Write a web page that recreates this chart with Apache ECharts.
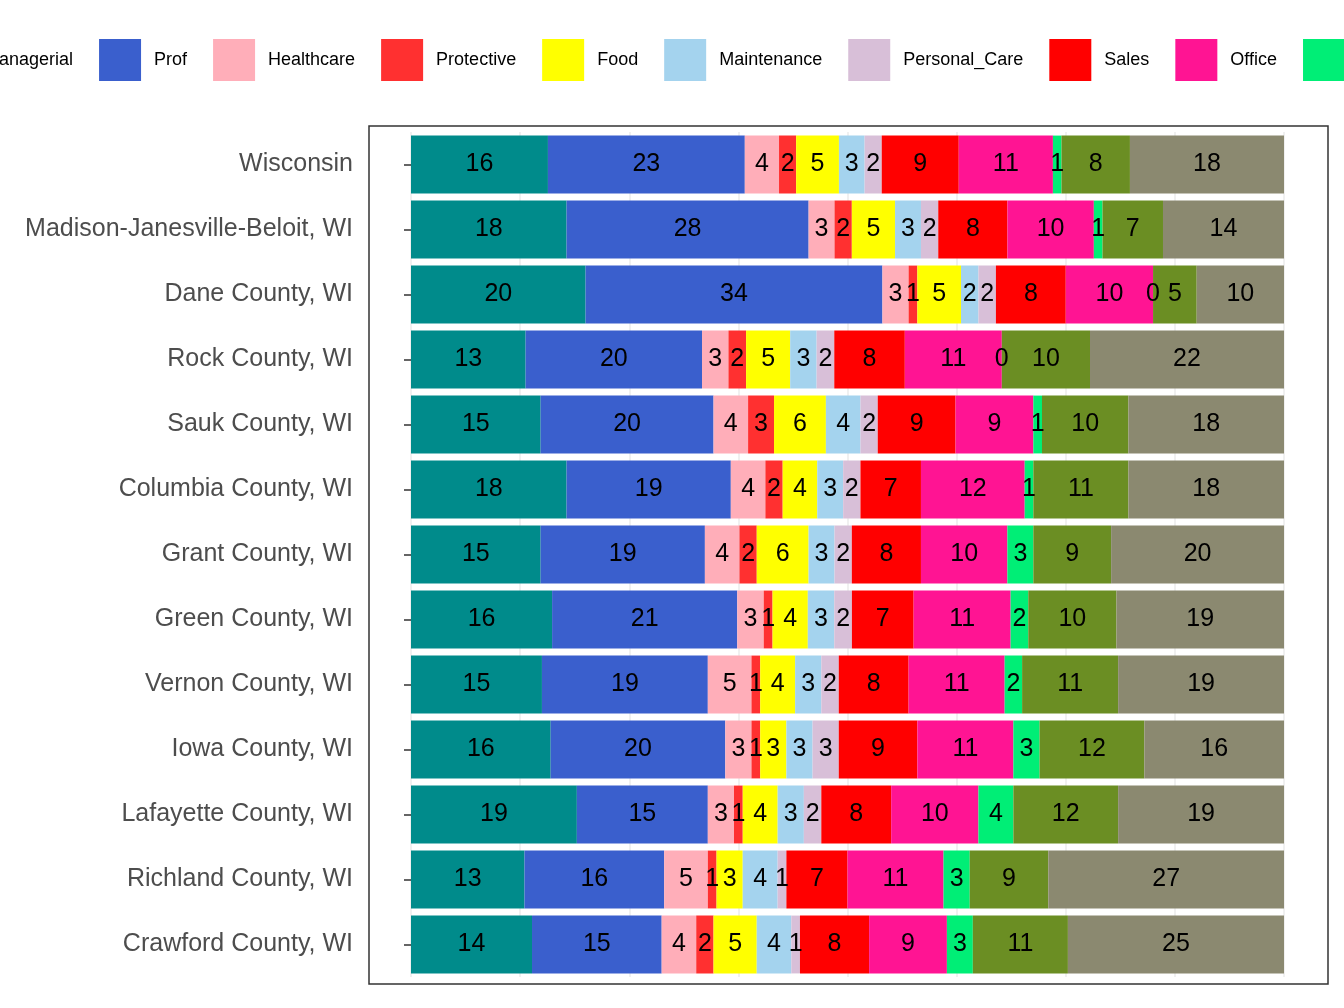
<!DOCTYPE html>
<html>
<head>
<meta charset="utf-8">
<script src="https://cdn.jsdelivr.net/npm/echarts@6/dist/echarts.min.js"></script>
<style>html,body{margin:0;padding:0;background:#fff}#chart{width:1344px;height:1008px}</style>
</head>
<body>
<div id="chart"></div>
<script>
const places = ['Wisconsin', 'Madison-Janesville-Beloit, WI', 'Dane County, WI', 'Rock County, WI',
  'Sauk County, WI', 'Columbia County, WI', 'Grant County, WI', 'Green County, WI',
  'Vernon County, WI', 'Iowa County, WI', 'Lafayette County, WI', 'Richland County, WI', 'Crawford County, WI']
const occupations = ['Managerial', 'Prof', 'Healthcare', 'Protective', 'Food', 'Maintenance',
  'Personal_Care', 'Sales', 'Office', 'Farming', 'Construction', 'Production']
const colors = ['#008B8B', '#3A5FCD', '#FFAEB9', '#FF3030', '#FFFF00', '#A4D3EE',
  '#D8BFD8', '#FF0000', '#FF1493', '#00EE76', '#6B8E23', '#8B8970']

// percent shares per place, in occupation order
const wisconsin = [16, 23, 4, 2, 5, 3, 2, 9, 11, 1, 8, 18]
const madison = [18, 28, 3, 2, 5, 3, 2, 8, 10, 1, 7, 14]
const dane = [20, 34, 3, 1, 5, 2, 2, 8, 10, 0, 5, 10]
const rock = [13, 20, 3, 2, 5, 3, 2, 8, 11, 0, 10, 22]
const sauk = [15, 20, 4, 3, 6, 4, 2, 9, 9, 1, 10, 18]
const columbia = [18, 19, 4, 2, 4, 3, 2, 7, 12, 1, 11, 18]
const grant = [15, 19, 4, 2, 6, 3, 2, 8, 10, 3, 9, 20]
const green = [16, 21, 3, 1, 4, 3, 2, 7, 11, 2, 10, 19]
const vernon = [15, 19, 5, 1, 4, 3, 2, 8, 11, 2, 11, 19]
const iowa = [16, 20, 3, 1, 3, 3, 3, 9, 11, 3, 12, 16]
const lafayette = [19, 15, 3, 1, 4, 3, 2, 8, 10, 4, 12, 19]
const richland = [13, 16, 5, 1, 3, 4, 1, 7, 11, 3, 9, 27]
const crawford = [14, 15, 4, 2, 5, 4, 1, 8, 9, 3, 11, 25]

const rows = [wisconsin, madison, dane, rock, sauk, columbia, grant, green, vernon, iowa, lafayette, richland, crawford]
const totals = rows.map(r => r.reduce((a, b) => a + b, 0))

const series = occupations.map((name, i) => ({
  name,
  type: 'bar',
  stack: 'all',
  barWidth: '89%',
  itemStyle: { color: colors[i] },
  label: {
    show: true,
    color: '#000',
    fontSize: 25,
    fontFamily: 'Liberation Sans',
    formatter: p => rows[p.dataIndex][i]
  },
  data: rows.map((r, k) => r[i] / totals[k] * 100)
}))

const chart = echarts.init(document.getElementById('chart'))
chart.setOption({
  animation: false,
  textStyle: { fontFamily: 'Liberation Sans' },
  legend: {
    left: -76,
    top: 34,
    width: 3000,
    itemWidth: 42,
    itemHeight: 42,
    itemGap: 26,
    icon: 'rect',
    textStyle: { fontSize: 18, color: '#000', padding: [0, 0, 0, 8] },
    data: occupations
  },
  grid: { left: 411, right: 60, top: 132, bottom: 31 },
  xAxis: {
    type: 'value',
    min: 0,
    max: 100,
    interval: 12.5,
    axisLabel: { show: false },
    axisTick: { show: false },
    axisLine: { show: false },
    splitLine: { lineStyle: { color: '#ebebeb', width: 1.5 } }
  },
  yAxis: {
    type: 'category',
    inverse: true,
    offset: 42,
    data: places,
    axisLine: { show: false },
    axisTick: { show: true, length: 7, alignWithLabel: true, lineStyle: { color: '#333', width: 1.5 } },
    axisLabel: { fontSize: 25, color: '#4d4d4d', margin: 16 },
    splitLine: { show: false }
  },
  graphic: [{
    type: 'rect',
    shape: { x: 369, y: 126, width: 959, height: 858 },
    style: { fill: 'none', stroke: '#333', lineWidth: 1.5 },
    z: 100
  }],
  series
})
</script>
</body>
</html>
